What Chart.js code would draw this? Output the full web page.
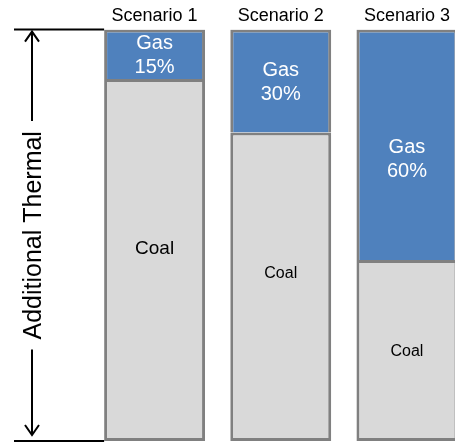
<!DOCTYPE html>
<html>
<head>
<meta charset="utf-8">
<script src="https://cdn.jsdelivr.net/npm/chart.js@4.4.0/dist/chart.umd.min.js"></script>
<style>
  html, body { margin: 0; padding: 0; background: #fff; overflow: hidden; }
  #wrap { width: 472px; height: 443px; }
</style>
</head>
<body>
<div id="wrap"><canvas id="myChart" width="472" height="443"></canvas></div>
<script>
// data
const scenarios = ['Scenario 1', 'Scenario 2', 'Scenario 3'];
const gas_share = [12, 25, 56];      // drawn height of the gas block (% of bar)
const coal_share = [88, 75, 44];     // drawn height of the coal block
const gas_labels = ['15%', '30%', '60%'];
const axis_title = 'Additional Thermal';

const font_family = '"Liberation Sans", Arial, Helvetica, sans-serif';

// text inside the bars
const barLabels = {
    id: 'barLabels',
    afterDatasetsDraw(chart) {
        const ctx = chart.ctx;
        ctx.save();
        ctx.textAlign = 'center';
        ctx.textBaseline = 'middle';

        // coal
        const coalMeta = chart.getDatasetMeta(0);
        const coalSizes = [19, 16, 16];
        const coalShift = [-11, -13, 1];
        coalMeta.data.forEach((bar, i) => {
            const p = bar.getProps(['x', 'y', 'base'], true);
            ctx.fillStyle = '#000';
            ctx.font = `${coalSizes[i]}px ${font_family}`;
            ctx.fillText('Coal', p.x, (p.y + p.base) / 2 + coalShift[i]);
        });

        // gas
        const gasMeta = chart.getDatasetMeta(1);
        const gasShift = [1, 1, 15];
        gasMeta.data.forEach((bar, i) => {
            const p = bar.getProps(['x', 'y', 'base'], true);
            const mid = (p.y + p.base) / 2 + gasShift[i];
            ctx.fillStyle = '#fff';
            ctx.font = `20px ${font_family}`;
            ctx.fillText('Gas', p.x, mid - 12);
            ctx.fillText(gas_labels[i], p.x, mid + 12);
        });
        ctx.restore();
    }
};

// dimension arrow on the left
const leftArrow = {
    id: 'leftArrow',
    afterDraw(chart) {
        const ctx = chart.ctx;
        const y = chart.scales.y;
        const top = y.getPixelForValue(100);
        const bottom = y.getPixelForValue(0);
        const first = chart.getDatasetMeta(0).data[0];
        const barLeft = first.x - first.width / 2;
        const ax = 32;

        ctx.save();
        ctx.strokeStyle = '#000';
        ctx.lineWidth = 2;

        // extension lines
        ctx.beginPath();
        ctx.moveTo(14, top);
        ctx.lineTo(barLeft, top);
        ctx.moveTo(14, bottom);
        ctx.lineTo(barLeft, bottom);
        ctx.stroke();

        ctx.font = `25px ${font_family}`;
        const tw = ctx.measureText(axis_title).width;
        const mid = (top + bottom) / 2;
        const gap = 10;

        // shafts
        ctx.beginPath();
        ctx.moveTo(ax, top + 2);
        ctx.lineTo(ax, mid - tw / 2 - gap);
        ctx.moveTo(ax, mid + tw / 2 + gap);
        ctx.lineTo(ax, bottom - 6);
        ctx.stroke();

        // heads
        ctx.beginPath();
        ctx.moveTo(ax - 7, top + 12);
        ctx.lineTo(ax, top + 2);
        ctx.lineTo(ax + 7, top + 12);
        ctx.moveTo(ax - 7, bottom - 16);
        ctx.lineTo(ax, bottom - 6);
        ctx.lineTo(ax + 7, bottom - 16);
        ctx.stroke();

        // title
        ctx.translate(ax + 2, mid);
        ctx.rotate(-Math.PI / 2);
        ctx.fillStyle = '#000';
        ctx.textAlign = 'center';
        ctx.textBaseline = 'middle';
        ctx.fillText(axis_title, 0, 0);
        ctx.restore();
    }
};

let ctx = document.getElementById('myChart').getContext('2d');

let myChart = new Chart(ctx, {
    type: 'bar',
    data: {
        labels: scenarios,
        datasets: [{
                label: 'Coal',
                data: coal_share,
                backgroundColor: '#D9D9D9',
                borderColor: '#808080',
                borderWidth: 3,
                borderSkipped: false,
            },
            {
                label: 'Gas',
                data: gas_share,
                backgroundColor: '#4F81BD',
                borderColor: '#808080',
                borderWidth: 3,
                borderSkipped: 'start',
            },
        ],
    },
    options: {
        responsive: false,
        animation: false,
        events: [],
        barPercentage: 0.8,
        categoryPercentage: 1,
        layout: {
            padding: { left: 91.5, right: 2, top: 2, bottom: 2 }
        },
        scales: {
            x: {
                stacked: true,
                position: 'top',
                grid: { display: false, drawTicks: false },
                border: { display: false },
                ticks: {
                    color: '#000',
                    padding: 3,
                    font: { family: font_family, size: 18 }
                }
            },
            y: {
                stacked: true,
                display: false,
                min: 0,
                max: 100,
            }
        },
        plugins: {
            legend: { display: false },
            tooltip: { enabled: false }
        }
    },
    plugins: [barLabels, leftArrow]
});
</script>
</body>
</html>
